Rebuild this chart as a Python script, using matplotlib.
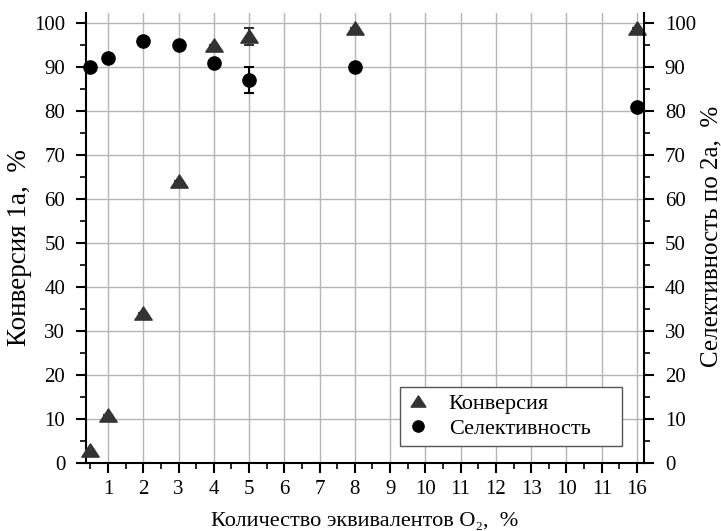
import matplotlib
matplotlib.use("Agg")
import matplotlib.pyplot as plt
from matplotlib.ticker import MultipleLocator, FixedLocator
from matplotlib.patches import Rectangle
from matplotlib.path import Path

plt.rcParams['font.family'] = ['Liberation Serif', 'DejaVu Serif']

# Data (x given as axis position)
x_pos = [0.5, 1, 2, 3, 4, 5, 8, 16]
conversion = [3, 11, 34, 64, 95, 97, 99, 99]
conversion_err = [0, 0, 0, 0, 0, 2, 0, 0]
selectivity = [90, 92, 96, 95, 91, 87, 90, 81]
selectivity_err = [0, 0, 0, 0, 0, 3, 0, 0]

tick_positions = list(range(1, 17))
tick_labels = ['1', '2', '3', '4', '5', '6', '7', '8', '9', '10', '11', '12', '13', '10', '11', '16']

W, H = 721, 531
L, R, T, B = 86, 644, 13, 463

fig = plt.figure(figsize=(W/100, H/100), dpi=100)
ax = fig.add_axes([L/W, (H-B)/H, (R-L)/W, (B-T)/H])

ax.set_xlim(0.376, 16.2)
ax.set_ylim(0, 102.3)

ax.grid(True, color='#b5b5b5', linewidth=1.0, zorder=0)
ax.set_axisbelow(True)

tri = Path([(-1, -0.76), (1, -0.76), (0, 0.76), (-1, -0.76)],
           [Path.MOVETO, Path.LINETO, Path.LINETO, Path.CLOSEPOLY])

ax.errorbar(x_pos, conversion, yerr=conversion_err,
            fmt='none', ecolor='#333333', capsize=3.5, elinewidth=1.5,
            capthick=1.5, zorder=3, clip_on=False)
ax.plot(x_pos, conversion, linestyle='none', marker=tri, color='#333333',
        markersize=12.5, label='Конверсия', zorder=4, clip_on=False)
ax.errorbar(x_pos, selectivity, yerr=selectivity_err,
            fmt='none', ecolor='black', capsize=3.5, elinewidth=1.5,
            capthick=1.5, zorder=3, clip_on=False)
ax.plot(x_pos, selectivity, linestyle='none', marker='o', color='black',
        markersize=9.5, label='Селективность', zorder=4, clip_on=False)

ax.xaxis.set_major_locator(FixedLocator(tick_positions))
ax.set_xticklabels(tick_labels)
ax.xaxis.set_minor_locator(FixedLocator([0.5 + i for i in range(16)]))
ax.yaxis.set_major_locator(MultipleLocator(10))
ax.yaxis.set_minor_locator(MultipleLocator(5))

ax.spines['top'].set_visible(False)
ax.spines['right'].set_visible(False)
for s in ['left', 'bottom']:
    ax.spines[s].set_linewidth(1.5)

ax.tick_params(axis='both', which='major', direction='out', length=7, width=1.5, labelsize=15)
ax.tick_params(axis='both', which='minor', direction='out', length=4, width=1.2)
ax.tick_params(axis='x', which='major', pad=5)
ax.tick_params(axis='y', which='major', pad=8)

ax2 = ax.twinx()
ax2.set_ylim(0, 102.3)
ax2.yaxis.set_major_locator(MultipleLocator(10))
ax2.yaxis.set_minor_locator(MultipleLocator(5))
ax2.spines['top'].set_visible(False)
ax2.spines['left'].set_visible(False)
ax2.spines['bottom'].set_visible(False)
ax2.spines['right'].set_linewidth(1.5)
ax2.tick_params(axis='y', which='major', direction='out', length=7, width=1.5, labelsize=15, pad=8)
ax2.tick_params(axis='y', which='minor', direction='out', length=4, width=1.2)

ax.set_ylabel('Конверсия 1а,  %', fontsize=19.5, va='center')
ax.yaxis.set_label_coords((20 - L) / (R - L), (B - 248) / (B - T))
ax2.set_ylabel('Селективность по 2а,  %', fontsize=18, rotation=90, va='center')
ax2.yaxis.set_label_coords((711 - L) / (R - L), (B - 236) / (B - T))
ax.set_xlabel('Количество эквивалентов O₂,  %', fontsize=16, va='baseline')
ax.xaxis.set_label_coords(0.5, (B - 526) / (B - T))

# Legend box (square corners, grey edge)
bx0, bx1, by0, by1 = 400, 622, 387, 446
ax.add_patch(Rectangle(((bx0 - L) / (R - L), (B - by1) / (B - T)),
                       (bx1 - bx0) / (R - L), (by1 - by0) / (B - T),
                       transform=ax.transAxes, facecolor='white',
                       edgecolor='#555555', linewidth=1.0, zorder=5))
leg = ax.legend(loc='upper left',
                bbox_to_anchor=((bx0 + 2 - L) / (R - L), (B - by0 - 2) / (B - T)),
                borderaxespad=0, fontsize=16, frameon=False,
                handlelength=1.0, handletextpad=0.9, borderpad=0.2,
                labelspacing=0.2, markerscale=0.85)
leg.set_zorder(6)

fig.savefig('out.png', dpi=100)
